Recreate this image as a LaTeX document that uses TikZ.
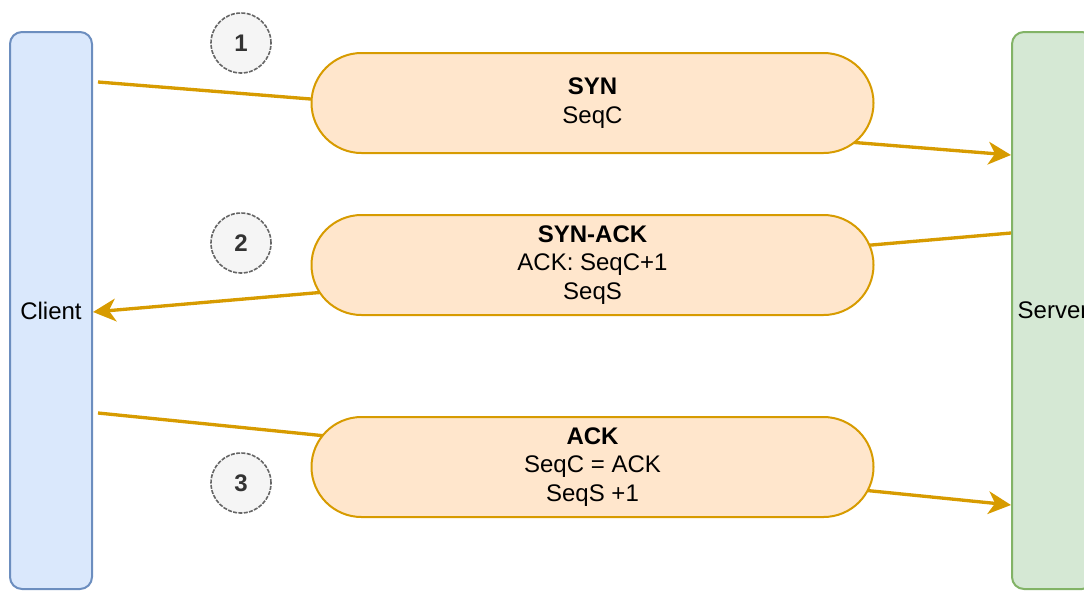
\documentclass[tikz,border=0pt]{standalone}
\usepackage{fontspec}
\setmainfont{Liberation Sans}
\usetikzlibrary{positioning, arrows.meta}
\definecolor{clientfill}{HTML}{DAE8FC}
\definecolor{clientline}{HTML}{6C8EBF}
\definecolor{serverfill}{HTML}{D5E8D4}
\definecolor{serverline}{HTML}{82B366}
\definecolor{msgfill}{HTML}{FFE6CC}
\definecolor{msgline}{HTML}{D79B00}
\definecolor{stepfill}{HTML}{F5F5F5}
\definecolor{stepline}{HTML}{666666}
\definecolor{steptext}{HTML}{333333}

\begin{document}
\begin{tikzpicture}[
    x=0.75pt, y=-0.75pt,
    every node/.style={font=\fontsize{18}{21.6}\selectfont, align=center},
    host/.style={draw, line width=1.5pt, rounded corners=9pt, minimum width=61.5pt, minimum height=417.75pt},
    msg/.style={draw=msgline, fill=msgfill, line width=1.5pt, rounded corners=37.5pt, minimum width=421.5pt, minimum height=75pt},
    stepnum/.style={circle, draw=stepline, fill=stepfill, line width=1.2pt, dash pattern=on 3pt off 1pt, minimum size=45pt, inner sep=0pt, text=steptext, font=\fontsize{18}{21.6}\selectfont\bfseries},
    arrow/.style={draw=msgline, line width=2.5pt, -{Stealth[length=17pt, width=17pt, inset=5pt]}}
]
\useasboundingbox (0,0) rectangle (1084,590);
\clip (0,0) rectangle (1084,590);

\node[host, draw=clientline, fill=clientfill] (client) at (51,310.5) {Client};
\node[host, draw=serverline, fill=serverfill] (server) at (1053,310.5) {Server};

\draw[arrow] ([xshift=3.75pt]client.east |- 0,82) -- (server.west |- 0,155);
\draw[arrow] (server.west |- 0,233) -- (client.east |- 0,312);
\draw[arrow] ([xshift=3.75pt]client.east |- 0,413) -- (server.west |- 0,505);

\node[msg] (syn) at (592.5,103) {\textbf{SYN}\\SeqC};
\node[msg, below=45pt of syn] (synack) {\textbf{SYN-ACK}\\ACK: SeqC+1\\SeqS};
\node[msg, below=75pt of synack] (ack) {\textbf{ACK}\\SeqC = ACK\\SeqS +1};

\node[stepnum] (s1) at (241,43) {1};
\node[stepnum] (s2) at (241,243) {2};
\node[stepnum] (s3) at (241,483) {3};
\end{tikzpicture}
\end{document}
